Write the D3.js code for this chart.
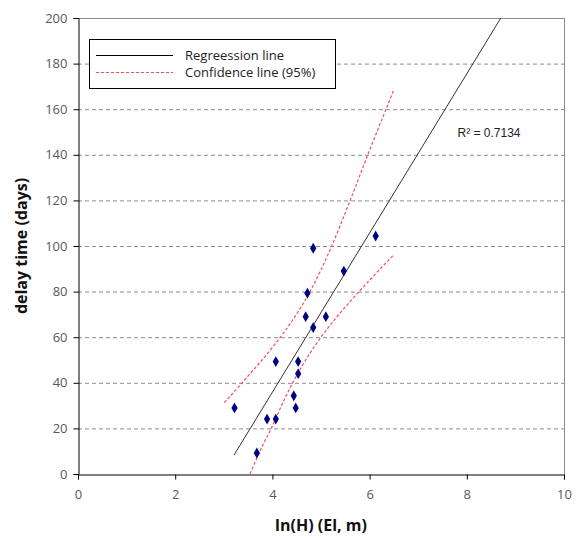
<!DOCTYPE html>
<html><head><meta charset="utf-8">
<script src="https://cdn.jsdelivr.net/npm/d3@7/dist/d3.min.js"></script>
<style>body{margin:0;background:#fff}svg{display:block}</style>
</head><body><svg id="c" width="579" height="538"></svg>
<script>
const pointsX = [6.125,4.84,5.47,4.72,4.685,5.10,4.84,4.07,4.53,4.53,4.44,4.48,3.22,3.89,4.07,3.68];
const pointsY = [104.4,99,89,79.3,69,69,64.2,49.3,49.3,44,34.3,29,29,24.1,24.1,9.2];
const regX = [3.21, 8.70];
const regY = [8.3, 200];
const upperX = [3.01,3.5,4.0,4.4,4.8,5.2,5.6,6.0,6.49];
const upperY = [31.3,43,55.5,67,81,99,120,142,168];
const lowerX = [3.54,3.8,4.0,4.23,4.6,5.0,5.53,6.0,6.49];
const lowerY = [0,12.5,21,32,47,60,74,85,96];
const xTicks = [0,2,4,6,8,10];
const yTicks = [0,20,40,60,80,100,120,140,160,180,200];
const r2Label = "R² = 0.7134";

const svg = d3.select("#c");
const L=78,R=564,T=18,B=474;
const x = d3.scaleLinear().domain([0,10]).range([L,R]);
const y = d3.scaleLinear().domain([0,200]).range([B,T]);
const tickFont = "'Open Sans', 'Noto Sans', sans-serif";

// gridlines
svg.append("g").selectAll("line").data(yTicks.filter(v=>v>0&&v<200)).join("line")
  .attr("x1",L).attr("x2",R).attr("y1",d=>y(d)+0.5).attr("y2",d=>y(d)+0.5)
  .attr("stroke","#8c8c8c").attr("stroke-width",1).attr("stroke-dasharray","4,3");
// border top/right
svg.append("path").attr("d",`M${L},${T+0.5}H${R+0.5}V${B}`).attr("fill","none").attr("stroke","#8c8c8c");

// axes
const xa = svg.append("g").attr("transform",`translate(0,${B+0.5})`)
  .call(d3.axisBottom(x).tickValues(xTicks).tickSize(5).tickPadding(10).tickFormat(d3.format("d")));
const ya = svg.append("g").attr("transform",`translate(${L+0.5},0)`)
  .call(d3.axisLeft(y).tickValues(yTicks).tickSize(5).tickPadding(6).tickFormat(d3.format("d")));
[xa,ya].forEach(a=>{
  a.select(".domain").attr("stroke","#000");
  a.selectAll(".tick line").attr("stroke","#000");
  a.selectAll("text").attr("fill","#595959").style("font-family",tickFont).style("font-size","13px");
});

const clip = svg.append("clipPath").attr("id","pc").append("rect").attr("x",L).attr("y",T).attr("width",R-L).attr("height",B-T);
const line = d3.line().x(d=>x(d[0])).y(d=>y(d[1]));
const smooth = d3.line().x(d=>x(d[0])).y(d=>y(d[1])).curve(d3.curveMonotoneX);

svg.append("path").attr("d",smooth(upperX.map((v,i)=>[v,upperY[i]])))
  .attr("fill","none").attr("stroke","#f0505a").attr("stroke-width",1.2).attr("stroke-dasharray","3,2");
svg.append("path").attr("d",smooth(lowerX.map((v,i)=>[v,lowerY[i]])))
  .attr("fill","none").attr("stroke","#f0505a").attr("stroke-width",1.2).attr("stroke-dasharray","3,2");
svg.append("path").attr("d",line(regX.map((v,i)=>[v,regY[i]])))
  .attr("fill","none").attr("stroke","#333").attr("stroke-width",1);

svg.append("g").selectAll("path").data(pointsX.map((v,i)=>[v,pointsY[i]])).join("path")
  .attr("d",d3.symbol(d3.symbolDiamond,34))
  .attr("transform",d=>`translate(${x(d[0])},${y(d[1])})`)
  .attr("fill","#000080");

// legend
const lg = svg.append("g");
lg.append("rect").attr("x",89.5).attr("y",39.5).attr("width",246).attr("height",49)
  .attr("fill","#fff").attr("stroke","#000").attr("stroke-width",1);
lg.append("line").attr("x1",96).attr("x2",173).attr("y1",55.5).attr("y2",55.5).attr("stroke","#000");
lg.append("line").attr("x1",96).attr("x2",173).attr("y1",72.5).attr("y2",72.5).attr("stroke","#f0505a").attr("stroke-dasharray","3,2");
lg.append("text").attr("x",185).attr("y",60).text("Regreession line")
  .style("font-family",tickFont).style("font-size","13px").attr("fill","#222");
lg.append("text").attr("x",185).attr("y",77).text("Confidence line (95%)")
  .style("font-family",tickFont).style("font-size","13px").attr("fill","#222");

svg.append("text").attr("x",489).attr("y",137).attr("text-anchor","middle").text(r2Label)
  .style("font-family","'Liberation Sans', Arial, sans-serif").style("font-size","12px").attr("fill","#222");

svg.append("text").attr("x",321).attr("y",531).attr("text-anchor","middle").text("ln(H) (El, m)")
  .style("font-family",tickFont).style("font-size","16px").style("font-weight","bold").attr("fill","#111");
svg.append("text").attr("transform","translate(27,246) rotate(-90)").attr("text-anchor","middle").text("delay time (days)")
  .style("font-family",tickFont).style("font-size","16px").style("font-weight","bold").attr("fill","#111");
</script></body></html>
